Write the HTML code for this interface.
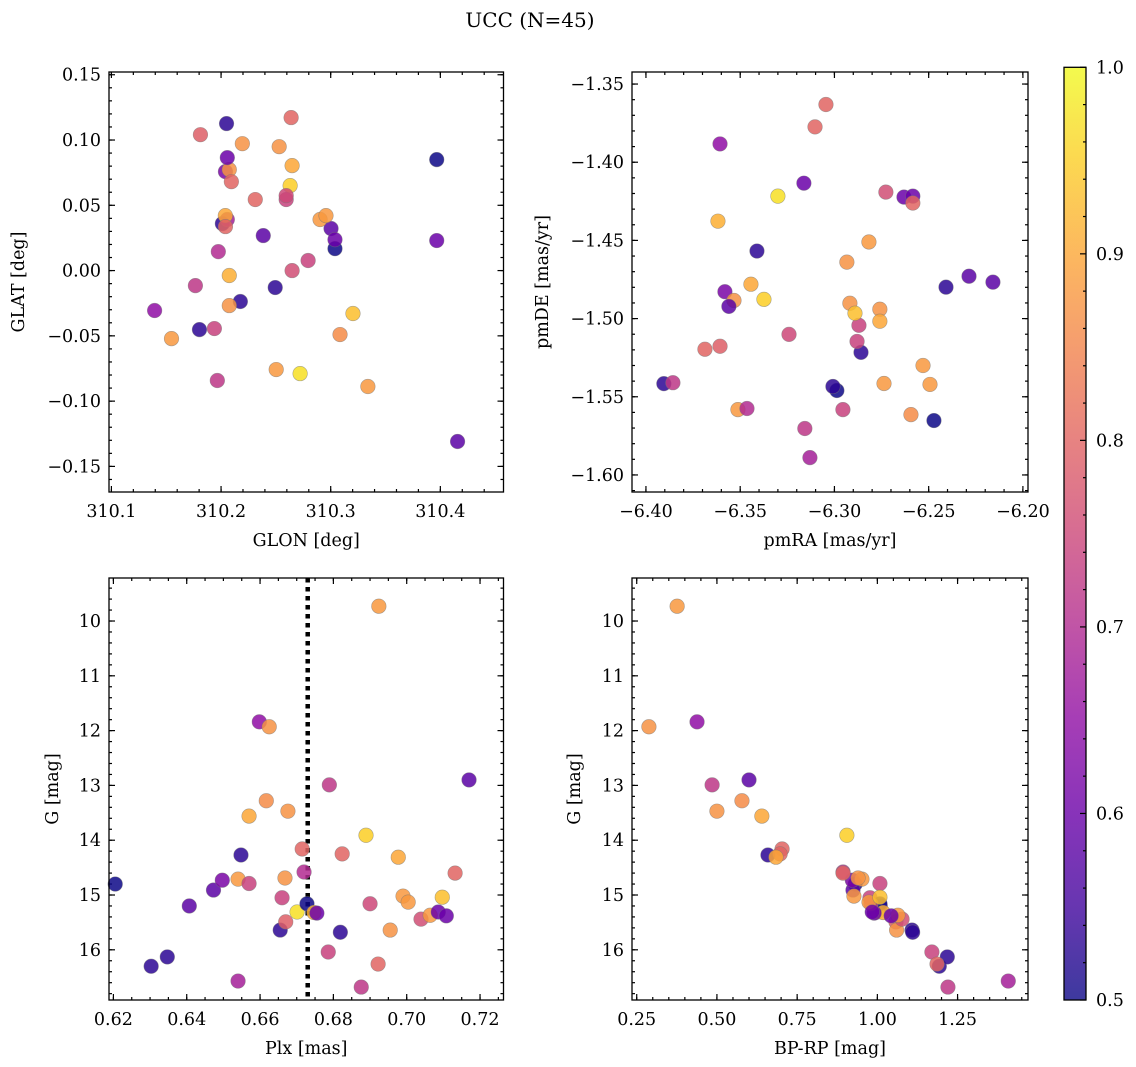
<!DOCTYPE html>
<html><head><meta charset="utf-8">
<style>
html,body{margin:0;padding:0;background:#fff;}
svg{display:block;font-family:"DejaVu Serif","Liberation Serif",serif;}
</style></head>
<body>
<svg id="fig" width="1136" height="1067" viewBox="0 0 1136 1067" xmlns="http://www.w3.org/2000/svg">
<defs>
<linearGradient id="cbgrad" x1="0" y1="1" x2="0" y2="0"></linearGradient>
</defs>
<text x="530" y="27" text-anchor="middle" font-size="20" fill="#000">UCC (N=45)</text>
</svg>
<script>
// ---- data (one entry per star) ----
const glon = [310.3967,310.1803,310.2012,310.2385,310.3003,310.2040,310.2057,310.1548,310.2176,310.2039,310.1939,310.1394,310.3085,310.2075,310.2494,310.2794,310.1812,310.2075,310.2194,310.2721,310.2312,310.1975,310.3039,310.2075,310.2057,310.2594,310.1766,310.2050,310.2639,310.1966,310.2630,310.2594,310.2040,310.2503,310.2530,310.2648,310.2903,310.2957,310.2648,310.3339,310.3039,310.3203,310.3967,310.2094,310.4157];
const glat = [0.0850,-0.0452,0.0360,0.0268,0.0322,0.0758,0.0391,-0.0521,-0.0237,0.0421,-0.0444,-0.0306,-0.0490,-0.0268,-0.0130,0.0077,0.1041,0.0773,0.0972,-0.0789,0.0544,0.0145,0.0168,-0.0038,0.0865,0.0544,-0.0115,0.1126,0.1172,-0.0842,0.0651,0.0574,0.0337,-0.0758,0.0949,0.0804,0.0391,0.0421,0.0000,-0.0888,0.0237,-0.0329,0.0230,0.0681,-0.1309];
const pmra = [-6.2987,-6.3905,-6.3411,-6.2286,-6.2159,-6.3581,-6.3130,-6.3512,-6.3008,-6.3443,-6.2870,-6.3607,-6.2594,-6.3533,-6.2859,-6.2955,-6.3607,-6.2934,-6.2918,-6.3300,-6.3103,-6.3464,-6.2472,-6.3618,-6.3162,-6.2880,-6.3857,-6.2408,-6.3045,-6.3157,-6.3374,-6.3241,-6.3687,-6.2817,-6.2759,-6.2759,-6.2737,-6.2530,-6.2727,-6.2493,-6.2631,-6.2891,-6.2584,-6.2584,-6.3560];
const pmde = [-1.5460,-1.5416,-1.4568,-1.4729,-1.4767,-1.4828,-1.5889,-1.5582,-1.5434,-1.4780,-1.5043,-1.3883,-1.5614,-1.4884,-1.5216,-1.5582,-1.5177,-1.4639,-1.4902,-1.4217,-1.3774,-1.5575,-1.5652,-1.4377,-1.4134,-1.5146,-1.5410,-1.4799,-1.3631,-1.5703,-1.4877,-1.5101,-1.5196,-1.4510,-1.4940,-1.5017,-1.5415,-1.5300,-1.4191,-1.5421,-1.4223,-1.4966,-1.4217,-1.4261,-1.4922];
const plx = [0.6205,0.6303,0.6347,0.6407,0.6473,0.6497,0.6540,0.6540,0.6548,0.6570,0.6570,0.6598,0.6617,0.6625,0.6655,0.6660,0.6670,0.6668,0.6676,0.6701,0.6715,0.6720,0.6728,0.6747,0.6755,0.6786,0.6789,0.6819,0.6824,0.6876,0.6889,0.6900,0.6922,0.6924,0.6955,0.6977,0.6990,0.7004,0.7039,0.7064,0.7086,0.7097,0.7108,0.7132,0.7170];
const gmag = [14.80,16.30,16.13,15.20,14.91,14.73,16.57,14.71,14.27,13.56,14.79,11.84,13.28,11.93,15.64,15.05,15.49,14.69,13.47,15.31,14.16,14.58,15.16,15.32,15.33,16.04,12.99,15.68,14.25,16.68,13.91,15.16,16.26,9.73,15.64,14.31,15.02,15.13,15.44,15.37,15.31,15.04,15.38,14.60,12.90];
const bprp = [0.931,1.193,1.218,1.009,0.924,0.922,1.408,0.952,0.659,0.640,1.008,0.438,0.578,0.288,1.108,0.977,1.058,0.940,0.500,0.999,0.703,0.893,1.008,1.018,0.990,1.170,0.485,1.110,0.697,1.220,0.905,0.980,1.186,0.376,1.060,0.684,0.927,0.974,1.077,1.064,0.984,1.008,1.043,0.893,0.600];
const prob = [0.50,0.53,0.53,0.58,0.58,0.62,0.68,0.88,0.53,0.90,0.74,0.65,0.86,0.87,0.53,0.74,0.79,0.87,0.87,0.97,0.80,0.70,0.50,0.91,0.60,0.74,0.72,0.53,0.80,0.72,0.95,0.75,0.80,0.88,0.87,0.90,0.88,0.88,0.76,0.88,0.60,0.93,0.60,0.80,0.58];
const plxMedian = [0.673];
const cbTicks = [0.5,0.6,0.7,0.8,0.9,1.0];
const cbLabels = ["0.5","0.6","0.7","0.8","0.9","1.0"];

const NS = "http://www.w3.org/2000/svg";
const svg = document.getElementById('fig');
function mk(tag, attrs, parent){ const e=document.createElementNS(NS,tag); for(const k in attrs) e.setAttribute(k,attrs[k]); (parent||svg).appendChild(e); return e; }

const plasmaStops = [[0,'#0d0887'],[0.1,'#41049d'],[0.2,'#6a00a8'],[0.3,'#8f0da4'],[0.4,'#b12a90'],[0.5,'#cc4778'],[0.6,'#e16462'],[0.7,'#f2844b'],[0.8,'#fca636'],[0.9,'#fcce25'],[1,'#f0f921']];
function hex(h){return [parseInt(h.slice(1,3),16),parseInt(h.slice(3,5),16),parseInt(h.slice(5,7),16)];}
function plasma(t){ t=Math.max(0,Math.min(1,t)); for(let i=0;i<plasmaStops.length-1;i++){ const a=plasmaStops[i],b=plasmaStops[i+1]; if(t<=b[0]){ const f=(t-a[0])/(b[0]-a[0]); const ca=hex(a[1]),cb=hex(b[1]); return 'rgb('+ca.map((v,j)=>Math.round(v+(cb[j]-v)*f)).join(',')+')'; } } return plasmaStops[10][1]; }
function cmap(v){ return plasma((v-0.5)/0.5); }

const grad = document.getElementById('cbgrad');
for(let i=0;i<=20;i++){ mk('stop',{offset:(i/20),'stop-color':plasma(i/20),'stop-opacity':0.8},grad); }

function fmt(v,d){ const s=Math.abs(v).toFixed(d); return (v< -1e-9?'\u2212':'')+s; }
const TF = 17.5;

function panel(cfg){
  const g = mk('g',{});
  
  
  const {x0,x1,y0,y1,xmin,xmax,ymin,ymax,yinv} = cfg;
  const sx = v => x0 + (v - xmin)/(xmax - xmin)*(x1-x0);
  const sy = yinv ? (v => y0 + (v - ymin)/(ymax - ymin)*(y1-y0)) : (v => y1 - (v - ymin)/(ymax - ymin)*(y1-y0));
  const tg = mk('g',{stroke:'#000','stroke-width':1.2},g);
  
  
  function ticks(min,max,step,isMajor,axis){
    const s = Math.ceil(min/step - 1e-6);
    for(let k=s; k*step<=max+1e-9; k++){
      const v = k*step; const L = isMajor?6:3;
      if(axis==='x'){ const px=sx(v); if(px<x0-0.5||px>x1+0.5) continue;
        mk('line',{x1:px,y1:y1,x2:px,y2:y1-L},tg); mk('line',{x1:px,y1:y0,x2:px,y2:y0+L},tg);
        if(isMajor){ const t=mk('text',{x:px,y:y1+25,'text-anchor':'middle','font-size':TF,fill:'#000',stroke:'none'},g); t.textContent=fmt(v,cfg.xd);
            }
      } else { const py=sy(v); if(py<y0-0.5||py>y1+0.5) continue;
        mk('line',{x1:x0,y1:py,x2:x0+L,y2:py},tg); mk('line',{x1:x1,y1:py,x2:x1-L,y2:py},tg);
        if(isMajor){ const t=mk('text',{x:x0-8,y:py+6,'text-anchor':'end','font-size':TF,fill:'#000',stroke:'none'},g); t.textContent=fmt(v,cfg.yd);
            }
      }
    }
  }
  ticks(xmin,xmax,cfg.xmaj,true,'x'); ticks(xmin,xmax,cfg.xmin_,false,'x');
  ticks(Math.min(ymin,ymax),Math.max(ymin,ymax),cfg.ymaj,true,'y'); ticks(Math.min(ymin,ymax),Math.max(ymin,ymax),cfg.ymin_,false,'y');
  if(cfg.vline){ for(const v of cfg.vline){ const l=mk('line',{x1:sx(v),y1:y0,x2:sx(v),y2:y1,stroke:'#000','stroke-width':4.5,'stroke-dasharray':'4.5,4.5'},g);
      } }
  const pg = mk('g',{},g);
  
  
  for(let i=0;i<prob.length;i++){
    const c = mk('circle',{cx:sx(cfg.xs[i]),cy:sy(cfg.ys[i]),r:7.3,fill:cmap(prob[i]),'fill-opacity':0.85,stroke:'#777','stroke-opacity':0.6,'stroke-width':0.6},pg);
    
    
  }
  const fr = mk('rect',{x:x0,y:y0,width:x1-x0,height:y1-y0,fill:'none',stroke:'#000','stroke-width':1.3},g);
   
  const xl = mk('text',{x:(x0+x1)/2,y:y1+54,'text-anchor':'middle','font-size':17.5,fill:'#000'},g); xl.textContent=cfg.xlabel;
   
  const ylx = cfg.ylx; const yly=(y0+y1)/2;
  const yl = mk('text',{x:ylx,y:yly,'text-anchor':'middle','font-size':17.5,fill:'#000',transform:'rotate(-90 '+ylx+' '+yly+')'},g); yl.textContent=cfg.ylabel;
   
}

panel({name:'glon-glat-panel',x0:109,x1:503.5,y0:72,y1:492,xmin:310.0978,xmax:310.4576,ymin:-0.1696,ymax:0.1521,xmaj:0.1,xmin_:0.02,ymaj:0.05,ymin_:0.01,xd:1,yd:2,xs:glon,ys:glat,xlabel:'GLON [deg]',ylabel:'GLAT [deg]',ylx:24});
panel({name:'pm-panel',x0:632,x1:1028,y0:72,y1:492,xmin:-6.4074,xmax:-6.1973,ymin:-1.6109,ymax:-1.3423,xmaj:0.05,xmin_:0.01,ymaj:0.05,ymin_:0.01,xd:2,yd:2,xs:pmra,ys:pmde,xlabel:'pmRA [mas/yr]',ylabel:'pmDE [mas/yr]',ylx:548});
panel({name:'plx-g-panel',x0:109,x1:503.5,y0:578,y1:1000,xmin:0.6188,xmax:0.7264,ymin:9.215,ymax:16.916,yinv:true,xmaj:0.02,xmin_:0.005,ymaj:1,ymin_:0.2,xd:2,yd:0,xs:plx,ys:gmag,xlabel:'Plx [mas]',ylabel:'G [mag]',ylx:58,vline:plxMedian});
panel({name:'cmd-panel',x0:632,x1:1028,y0:578,y1:1000,xmin:0.2353,xmax:1.4695,ymin:9.215,ymax:16.916,yinv:true,xmaj:0.25,xmin_:0.05,ymaj:1,ymin_:0.2,xd:2,yd:0,xs:bprp,ys:gmag,xlabel:'BP-RP [mag]',ylabel:'G [mag]',ylx:580});

const cb = mk('g',{});


const cbx0=1064, cbx1=1086, cby0=67.3, cby1=1000;
const cy = v => cby1 - (v-0.5)/0.5*(cby1-cby0);
mk('rect',{x:cbx0,y:cby0,width:cbx1-cbx0,height:cby1-cby0,fill:'url(#cbgrad)'},cb);
for(let k=25;k<=50;k++){ const v=k*0.02; const major = (k%5===0); const py=cy(v);
  mk('line',{x1:cbx1,y1:py,x2:cbx1-(major?6:3),y2:py,stroke:'#000','stroke-width':1.2},cb); }
cbTicks.forEach((v,i)=>{ const t=mk('text',{x:cbx1+10,y:cy(v)+6,'font-size':TF,fill:'#000'},cb); t.textContent=cbLabels[i];
    });
mk('rect',{x:cbx0,y:cby0,width:cbx1-cbx0,height:cby1-cby0,fill:'none',stroke:'#000','stroke-width':1.3},cb);
</script>
</body></html>
